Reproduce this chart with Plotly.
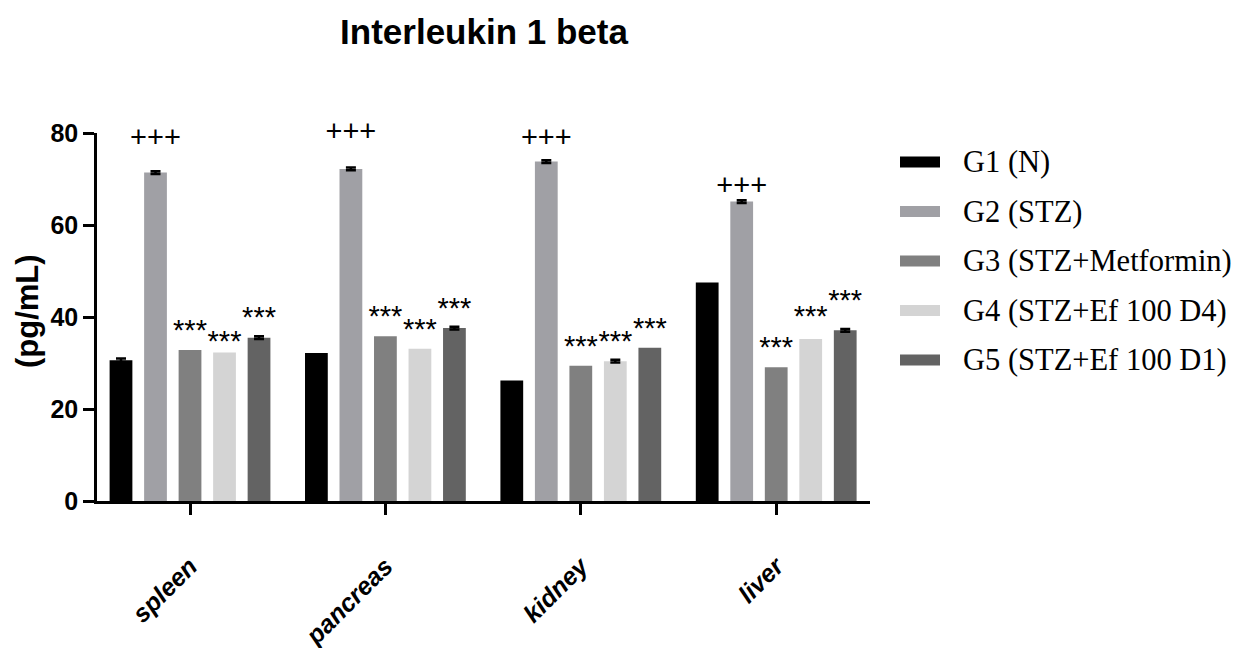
import plotly.graph_objects as go

categories = ["spleen", "pancreas", "kidney", "liver"]
groups = ["G1 (N)", "G2 (STZ)", "G3 (STZ+Metformin)", "G4 (STZ+Ef 100 D4)", "G5 (STZ+Ef 100 D1)"]
colors = ["#000000", "#A0A0A5", "#808080", "#D4D4D4", "#636363"]

g1 = [30.6, 32.2, 26.2, 47.5]
g2 = [71.4, 72.2, 73.8, 65.1]
g3 = [32.8, 35.8, 29.4, 29.1]
g4 = [32.3, 33.1, 30.4, 35.2]
g5 = [35.5, 37.6, 33.3, 37.1]
values = [g1, g2, g3, g4, g5]

# SEM (None = too small to be seen)
e1 = [0.4, None, None, None]
e2 = [0.3, 0.3, 0.3, 0.3]
e3 = [None, None, None, None]
e4 = [None, None, 0.3, None]
e5 = [0.3, 0.3, None, 0.3]
errors = [e1, e2, e3, e4, e5]

# significance labels and the heights (data units) where they sit
sig_text = [
    [None, None, None, None],
    ["+++", "+++", "+++", "+++"],
    ["***", "***", "***", "***"],
    ["***", "***", "***", "***"],
    ["***", "***", "***", "***"],
]
sig_y = [
    [None, None, None, None],
    [78.6, 79.8, 78.6, 68.0],
    [36.6, 39.6, 33.2, 32.9],
    [34.2, 36.8, 34.2, 39.6],
    [39.4, 41.4, 37.1, 43.0],
]

W, H = 1237, 648
L, R, T, B = 97, 367, 133, 147
BARGAP = 0.117

fig = go.Figure()
for i in range(5):
    fig.add_trace(go.Bar(
        x=categories, y=values[i], name=groups[i],
        marker=dict(color=colors[i], line=dict(width=0)),
        offsetgroup=str(i),
        showlegend=False,
    ))
    ex = [c for c, e in zip(categories, errors[i]) if e is not None]
    ey = [v for v, e in zip(values[i], errors[i]) if e is not None]
    ee = [e for e in errors[i] if e is not None]
    if ex:
        fig.add_trace(go.Scatter(
            x=ex, y=ey, mode="none", offsetgroup=str(i),
            error_y=dict(type="data", array=ee, visible=True,
                         color="black", thickness=2.5, width=5),
            showlegend=False, hoverinfo="skip", cliponaxis=False,
        ))
    if any(t is not None for t in sig_text[i]):
        fig.add_trace(go.Scatter(
            x=categories, y=sig_y[i], text=sig_text[i], mode="text",
            offsetgroup=str(i),
            textfont=dict(family="Liberation Sans, Arial", size=29, color="black"),
            textposition="middle center",
            showlegend=False, hoverinfo="skip", cliponaxis=False,
        ))

pw = W - L - R
ph = H - T - B

def px_x(px):
    return (px - L) / pw

def px_y(py):
    return (H - B - py) / ph

shapes = []
annotations = []
for i, name in enumerate(groups):
    cy = 162 + 49.5 * i
    shapes.append(dict(type="rect", xref="paper", yref="paper",
                       x0=px_x(900), x1=px_x(940), y0=px_y(cy + 5.5), y1=px_y(cy - 5.5),
                       fillcolor=colors[i], line=dict(width=0)))
    annotations.append(dict(xref="paper", yref="paper", x=px_x(961), y=px_y(cy),
                            xanchor="left", yanchor="middle", text=name, showarrow=False,
                            font=dict(family="Liberation Serif, Times New Roman", size=30.5, color="black")))

annotations.append(dict(xref="paper", yref="paper", x=px_x(27), y=px_y(311),
                        xanchor="center", yanchor="middle", text="(pg/mL)", textangle=-90,
                        showarrow=False,
                        font=dict(family="Liberation Sans, Arial", size=31, color="black", weight="bold")))

fig.update_layout(
    width=W, height=H,
    margin=dict(l=L, r=R, t=T, b=B, pad=0, autoexpand=False),
    paper_bgcolor="white", plot_bgcolor="white",
    barmode="group", bargap=BARGAP, bargroupgap=0.34,
    scattermode="group", scattergap=BARGAP,
    title=dict(text="Interleukin 1 beta", x=484 / W, xanchor="center",
               y=1 - 32 / H, yanchor="middle", xref="container", yref="container",
               font=dict(family="Liberation Sans, Arial", size=35, color="black", weight="bold")),
    shapes=shapes, annotations=annotations,
    showlegend=False,
    xaxis=dict(
        type="category", range=[-0.476, 3.48], automargin=False,
        showline=True, linecolor="black", linewidth=2.5,
        ticks="outside", ticklen=11, tickwidth=2.5, tickcolor="black",
        tickangle=-45, ticklabelstandoff=27,
        tickfont=dict(family="Liberation Sans, Arial", size=25, color="black",
                      weight="bold", style="italic"),
        showgrid=False, zeroline=False,
    ),
    yaxis=dict(
        range=[0, 80], tickvals=[0, 20, 40, 60, 80], automargin=False,
        showline=True, linecolor="black", linewidth=2.5,
        ticks="outside", ticklen=11, tickwidth=2.5, tickcolor="black",
        tickfont=dict(family="Liberation Sans, Arial", size=25, color="black", weight="bold"),
        showgrid=False, zeroline=False,
    ),
)

fig.write_html("out.html")
